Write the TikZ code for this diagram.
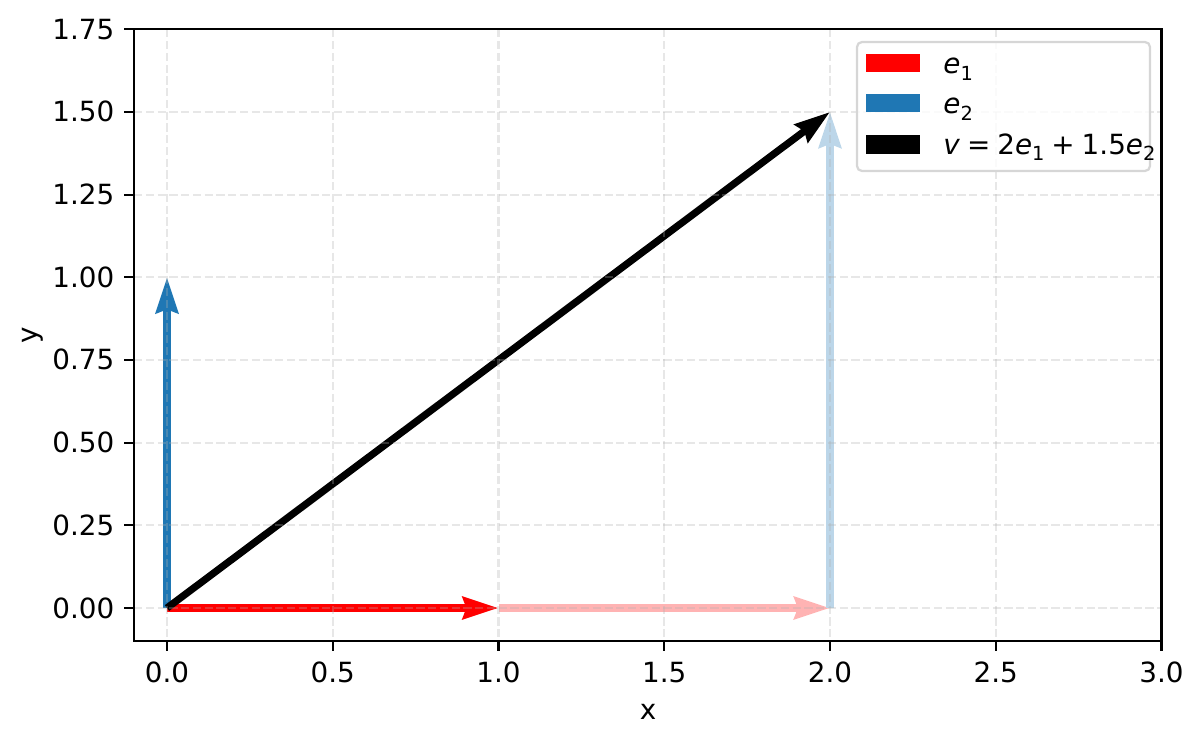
\documentclass[tikz,border=0pt]{standalone}
\usepackage{fontspec}
\setmainfont{DejaVu Sans}
\usetikzlibrary{arrows.meta}
\definecolor{tabblue}{RGB}{31,119,180}
\definecolor{fadered}{RGB}{255,179,179}
\definecolor{fadeblue}{RGB}{188,214,233}
\definecolor{gridgray}{RGB}{176,176,176}
\definecolor{legedge}{RGB}{214,214,214}
\newcommand{\lsub}[1]{\raisebox{-0.22em}{\fontsize{9.7pt}{10pt}\selectfont #1}}
\begin{document}
\begin{tikzpicture}[x=0.5pt,y=-0.5pt,
  font=\fontsize{13.9pt}{16pt}\selectfont,
  quiv/.style={line width=3.6pt, -{Stealth[length=17.8pt,width=11pt,inset=1.8pt]}},
  gridline/.style={gridgray, opacity=0.3, line width=1.11pt, dash pattern=on 4.1pt off 1.78pt},
  tickmark/.style={line width=1.11pt},
  ticklabel/.style={inner sep=0pt},
  patchbox/.style={inner sep=0pt}]
\useasboundingbox (0,0) rectangle (1203,743);
% data arrows
\begin{scope}[shift={(167,608)}, x=165.75pt, y=165.35pt]
  \coordinate (O) at (0,0);
  \coordinate (E1) at (1,0);
  \coordinate (E2) at (0,1);
  \coordinate (P2) at (2,0);
  \coordinate (V) at (2,1.5);
  \draw[quiv, red] (O) -- (E1);
  \draw[quiv, tabblue] (O) -- (E2);
  \draw[quiv, fadered] (E1) -- (P2);
  \draw[quiv, fadeblue] (P2) -- (V);
  \draw[quiv, black] (O) -- (V);
\end{scope}
% grid
\foreach \i in {0,...,6} {
  \pgfmathsetmacro\px{167+165.75*\i}
  \draw[gridline] (\px,29.3) -- (\px,641.1);
}
\foreach \j in {0,...,7} {
  \pgfmathsetmacro\py{608-82.675*\j}
  \draw[gridline] (134.1,\py) -- (1161.5,\py);
}
% spines
\draw[line width=1.11pt] (134.1,29.3) rectangle (1161.5,641.1);
% x ticks
\foreach \i/\lab in {0/0.0,1/0.5,2/1.0,3/1.5,4/2.0,5/2.5,6/3.0} {
  \pgfmathsetmacro\px{167+165.75*\i}
  \draw[tickmark] (\px,641.1) -- (\px,650.8);
  \node[ticklabel, anchor=base] (xt\i) at (\px,682) {\lab};
}
% y ticks
\foreach \j/\lab in {0/0.00,1/0.25,2/0.50,3/0.75,4/1.00,5/1.25,6/1.50,7/1.75} {
  \pgfmathsetmacro\py{608-82.675*\j}
  \draw[tickmark] (134.1,\py) -- (124.4,\py);
  \node[ticklabel, anchor=base east] (yt\j) at (114.7,\py+10) {\lab};
}
% axis labels
\node[ticklabel, anchor=base] (xlab) at (648,719) {x};
\node[ticklabel, rotate=90, anchor=center] (ylab) at (33,335) {y};
% legend
\draw[legedge, fill=white, fill opacity=0.8, rounded corners=2.5pt, line width=1.11pt] (857,42) rectangle (1150,171);
\fill[red] (866,54) rectangle (920,72);
\fill[tabblue] (866,94) rectangle (920,112);
\fill[black] (866,135) rectangle (920,154);
\node[patchbox, anchor=base west] (l1) at (943,74) {\textit{e}\lsub{1}};
\node[patchbox, anchor=base west] (l2) at (943,114) {\textit{e}\lsub{2}};
\node[patchbox, anchor=base west] (l3) at (943,154.5) {\textit{v}\hspace{0.25em}=\hspace{0.25em}2\textit{e}\lsub{1}\hspace{0.25em}+\hspace{0.25em}1.5\textit{e}\lsub{2}};
\end{tikzpicture}
\end{document}
